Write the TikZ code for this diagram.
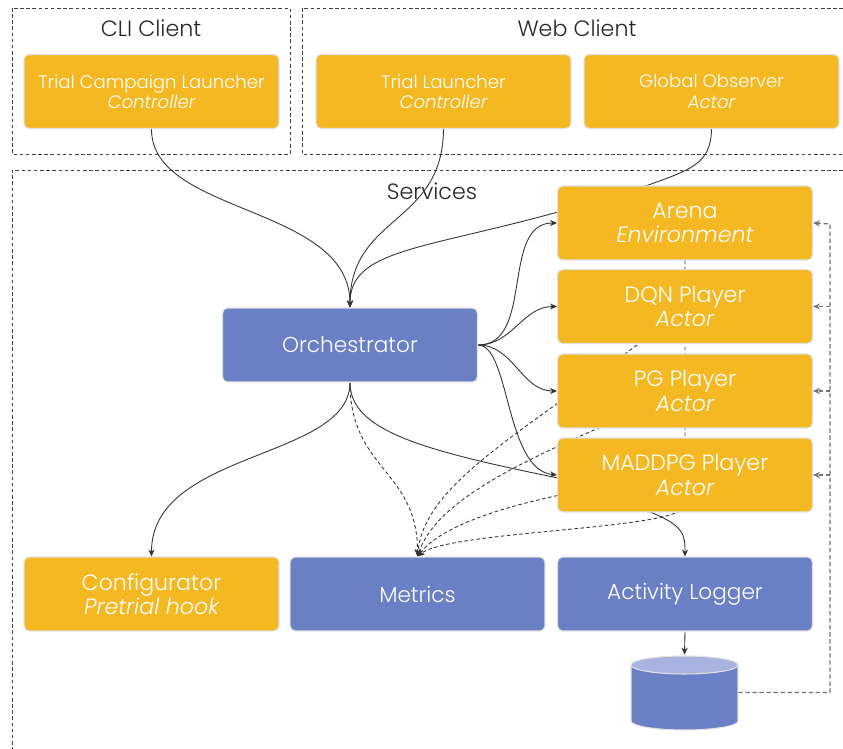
\documentclass[tikz,border=0pt]{standalone}
\usepackage{fontspec}
\setmainfont{Poppins}[UprightFont=* Light, ItalicFont=* Light Italic]
\usetikzlibrary{arrows.meta}

\definecolor{trialyellow}{HTML}{F4B823}
\definecolor{trialblue}{HTML}{6B7FC4}
\definecolor{triallight}{HTML}{A8B3DF}

\pgfdeclarelayer{bg}
\pgfsetlayers{bg,main}

\tikzset{
    box/.style={rectangle, rounded corners=3pt, draw=black!12, line width=0.6pt,
        minimum width=5.1cm, minimum height=1.48cm, inner sep=0pt,
        text=white, align=center},
    actorbox/.style={box, fill=trialyellow, font=\fontsize{10.3}{11.6}\selectfont},
    servicebox/.style={box, fill=trialyellow, font=\fontsize{12.6}{13.8}\selectfont},
    corebox/.style={box, fill=trialblue, font=\fontsize{12.3}{13.8}\selectfont},
    group/.style={draw=black!75, line width=0.5pt, dash pattern=on 2pt off 1.5pt},
    link/.style={-{Stealth[length=4pt, width=3.5pt]}, black!80, line width=0.5pt},
    dlink/.style={link, dash pattern=on 2pt off 1.5pt},
    feed/.style={link, black!55, line width=0.7pt, dash pattern=on 2.5pt off 1.5pt},
    grouplabel/.style={font=\fontsize{12.6}{14}\selectfont, text=black!85},
    store/.style={draw=black!12, line width=0.6pt},
}

\begin{document}
\begin{tikzpicture}[x=0.02cm, y=-0.02cm]
    \useasboundingbox (0,0) rectangle (843,749);

    % clients
    \node[actorbox] (campaign) at (151.5,91.5) {Trial Campaign Launcher\\{\itshape Controller}};
    \node[actorbox] (launcher) at (443.5,91.5) {Trial Launcher\\{\itshape Controller}};
    \node[actorbox] (observer) at (711.5,91.5) {Global Observer\\{\itshape Actor}};

    % services
    \node[corebox] (orch) at (350,345) {Orchestrator};
    \node[servicebox] (arena) at (685,223) {Arena\\{\itshape Environment}};
    \node[servicebox] (dqn) at (685,306.5) {DQN Player\\{\itshape Actor}};
    \node[servicebox] (pg) at (685,391) {PG Player\\{\itshape Actor}};
    \node[servicebox] (maddpg) at (685,475) {MADDPG Player\\{\itshape Actor}};
    \node[servicebox] (config) at (151.5,594) {Configurator\\{\itshape Pretrial hook}};
    \node[corebox] (metrics) at (417.5,594) {Metrics};
    \node[corebox] (logger) at (685,594) {Activity Logger};

    % log store
    \node[minimum width=2.14cm, minimum height=1.5cm, inner sep=0pt] (db) at (684.5,692.5) {};
    \filldraw[store, fill=trialblue] (631,665) -- (631,721)
        arc[start angle=180, end angle=360, x radius=1.07cm, y radius=0.18cm] -- (738,665);
    \filldraw[store, fill=triallight] (684.5,665) ellipse [x radius=1.07cm, y radius=0.18cm];

    \begin{pgfonlayer}{bg}
        \draw[group] (12,8) rectangle (290,154);
        \draw[group] (843,8) -- (302,8) -- (302,154) -- (843,154);
        \draw[group] (843,170) -- (12,170) -- (12,749);
        \node[grouplabel] (cli) at (151,28) {CLI Client};
        \node[grouplabel] (web) at (577,28) {Web Client};
        \node[grouplabel] (svc) at (432,191) {Services};

        \draw[link] (campaign.south) .. controls (151,215) and (350,205) .. (orch.north);
        \draw[link] (launcher.south) .. controls (443,225) and (350,215) .. (orch.north);
        \draw[link] (observer.south) .. controls (711,165) and (690,170) .. (640,188)
            -- (558,212) .. controls (420,250) and (350,250) .. (orch.north);

        \draw[link] (orch.east) to[out=0, in=180] (arena.west);
        \draw[link] (orch.east) to[out=0, in=180] (dqn.west);
        \draw[link] (orch.east) to[out=0, in=180] (pg.west);
        \draw[link] (orch.east) .. controls (510,345) and (505,470) .. (maddpg.west);

        \draw[link] (orch.south) .. controls (350,460) and (151,450) .. (config.north);
        \draw[link] (orch.south) .. controls (350,430) and (420,450) .. (558,478)
            -- (645,510) .. controls (685,525) and (685,535) .. (logger.north);
        \draw[link] (logger.south) -- (db.north);

        \draw[dlink] (orch.south) .. controls (350,470) and (418,470) .. (metrics.north);
        \draw[dlink] (arena.south) -- (685,505) .. controls (685,530) and (450,530) .. (metrics.north);
        \draw[dlink] (dqn.center) .. controls (550,420) and (425,475) .. (metrics.north);
        \draw[dlink] (pg.center) .. controls (560,445) and (440,490) .. (metrics.north);
        \draw[dlink] (maddpg.center) .. controls (560,490) and (450,515) .. (metrics.north);

        \draw[feed] (db.east) -| (830,224) -- (arena.east);
        \draw[feed] (830,306.5) -- (dqn.east);
        \draw[feed] (830,391) -- (pg.east);
        \draw[feed] (830,475) -- (maddpg.east);
    \end{pgfonlayer}
\end{tikzpicture}
\end{document}
